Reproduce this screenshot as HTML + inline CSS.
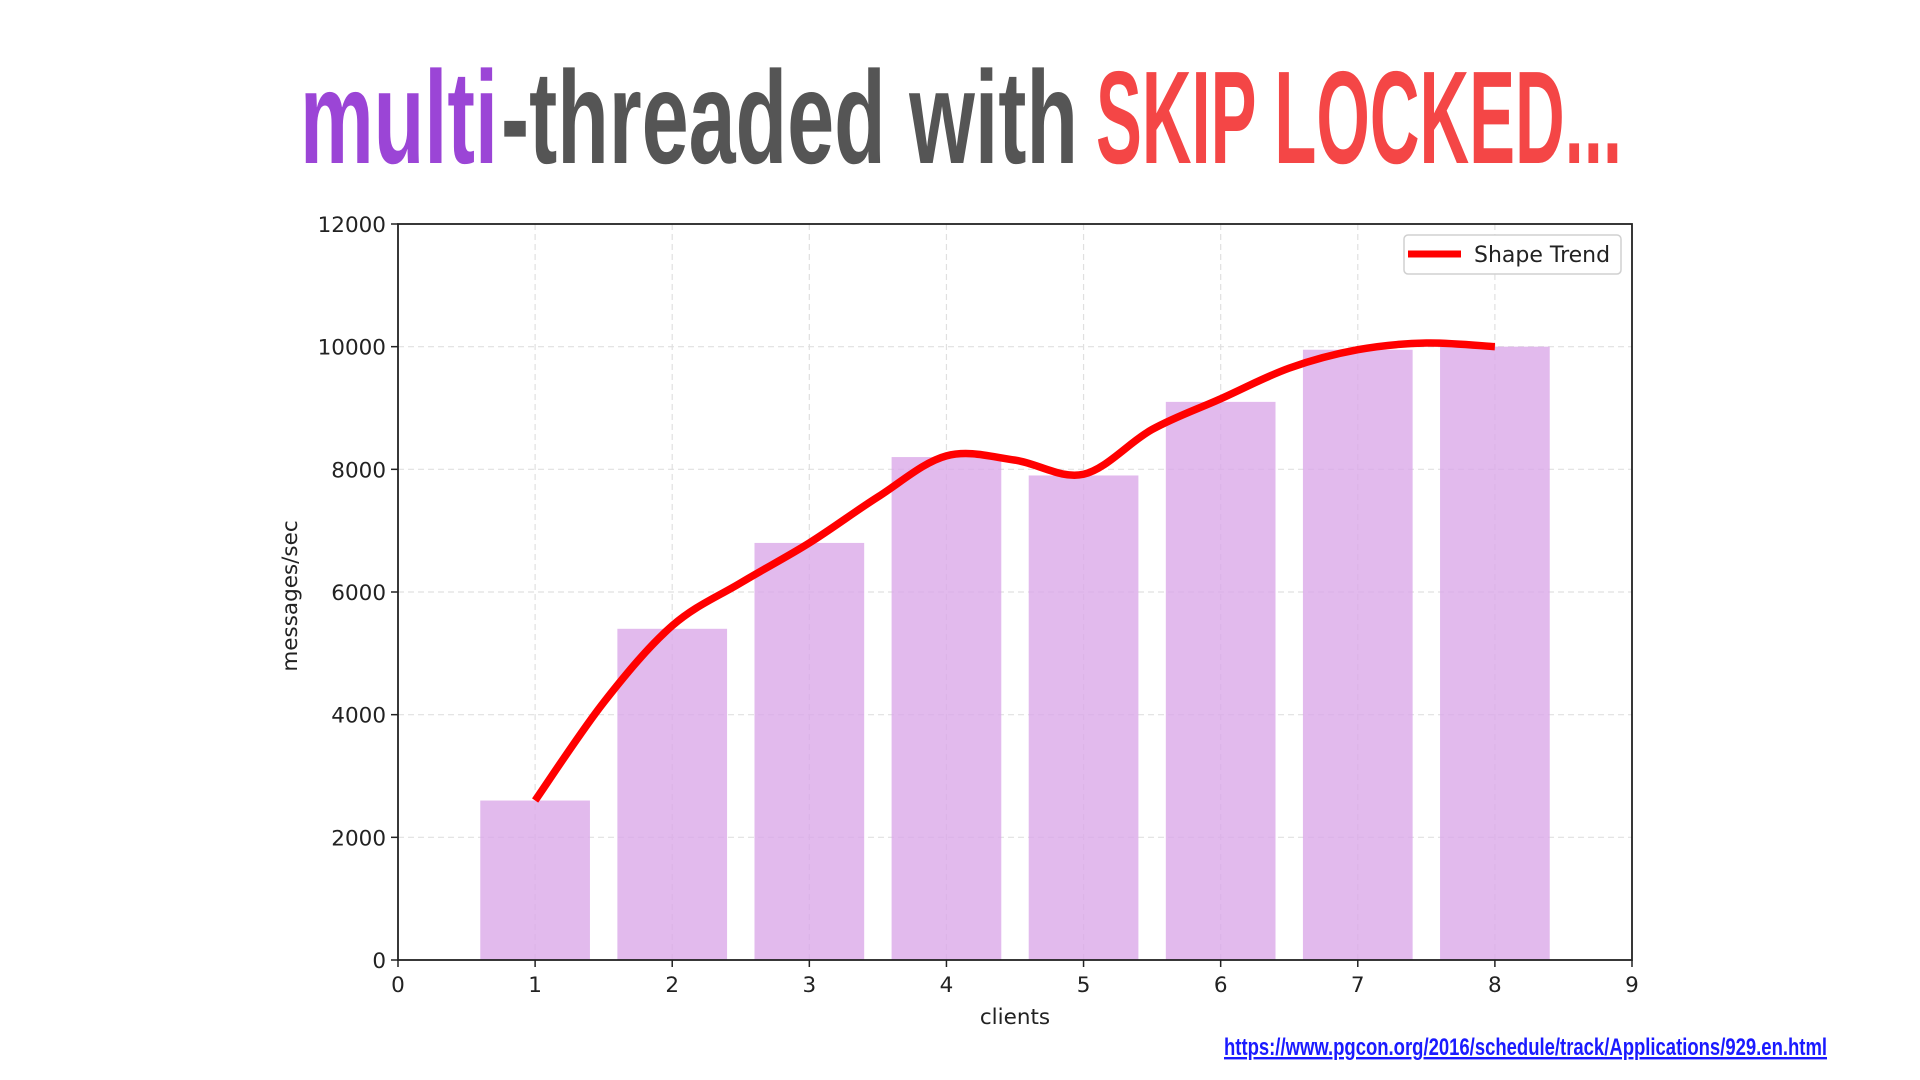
<!DOCTYPE html>
<html><head><meta charset="utf-8"><style>
html,body{margin:0;padding:0;background:#fff;width:1920px;height:1080px;overflow:hidden}
svg{display:block}
</style></head><body>
<svg id="chart" width="1920" height="1080" viewBox="0 0 1920 1080" xmlns="http://www.w3.org/2000/svg">
<g font-family="'Liberation Sans Narrow','Liberation Sans',sans-serif" font-weight="bold" font-size="132">
<text x="300" y="163" fill="#9b45d6" textLength="198" lengthAdjust="spacingAndGlyphs">multi</text>
<text x="501" y="163" fill="#555555" textLength="577" lengthAdjust="spacingAndGlyphs">-threaded with</text>
<text x="1096" y="163" fill="#f44646" textLength="526" lengthAdjust="spacingAndGlyphs">SKIP LOCKED...</text>
</g>
<g id="grid"></g>
<g id="bars"></g>
<g id="trend"></g>
<g id="axes" font-family="'DejaVu Sans',sans-serif" font-size="21.5" fill="#222"></g>
<g>
<rect x="1404" y="235" width="217" height="39" rx="4" fill="#fff" stroke="#d0d0d0" stroke-width="1.5"/>
<line x1="1408" y1="254" x2="1461" y2="254" stroke="#ff0000" stroke-width="7"/>
<text x="1474" y="262" font-family="'DejaVu Sans',sans-serif" font-size="22" fill="#222">Shape Trend</text>
</g>
<text x="1224" y="1055" font-family="'Liberation Sans Narrow','Liberation Sans',sans-serif" font-weight="bold" font-size="24" fill="#1a1aff" text-decoration="underline" textLength="603" lengthAdjust="spacingAndGlyphs">https://www.pgcon.org/2016/schedule/track/Applications/929.en.html</text>
</svg>
<script>
const categories = [1,2,3,4,5,6,7,8];
const throughput = [2600,5400,6800,8200,7900,9100,9950,10000];
const trendX = [1,1.5,2,2.5,3,3.5,4,4.5,5,5.5,6,6.5,7,7.5,8];
const trendY = [2600,4200,5450,6150,6800,7550,8220,8150,7920,8650,9150,9650,9950,10060,10000];
const xTicks = [0,1,2,3,4,5,6,7,8,9];
const yTicks = [0,2000,4000,6000,8000,10000,12000];
const NS='http://www.w3.org/2000/svg';
const L=398,R=1632,T=224,B=960;
const xs=v=>L+(v-0)/9*(R-L);
const ys=v=>B-(v/12000)*(B-T);
function mk(tag,attrs,parent){const e=document.createElementNS(NS,tag);for(const k in attrs)e.setAttribute(k,attrs[k]);parent.appendChild(e);return e;}
const grid=document.getElementById('grid'),bars=document.getElementById('bars'),trend=document.getElementById('trend'),axes=document.getElementById('axes');
xTicks.forEach(t=>{
  const g=mk('line',{x1:xs(t),x2:xs(t),y1:T,y2:B,stroke:'#e0e0e0','stroke-width':1.2,'stroke-dasharray':'6,4'},grid);
  
  
  const tk=mk('line',{x1:xs(t),x2:xs(t),y1:B,y2:B+7,stroke:'#222','stroke-width':1.5},axes);
  
  
  const lb=mk('text',{x:xs(t),y:B+32,'text-anchor':'middle'},axes);
  lb.textContent=t;
  
  
});
yTicks.forEach(t=>{
  const g=mk('line',{x1:L,x2:R,y1:ys(t),y2:ys(t),stroke:'#e0e0e0','stroke-width':1.2,'stroke-dasharray':'6,4'},grid);
  
  
  const tk=mk('line',{x1:L-7,x2:L,y1:ys(t),y2:ys(t),stroke:'#222','stroke-width':1.5},axes);
  
  
  const lb=mk('text',{x:L-12,y:ys(t)+8,'text-anchor':'end'},axes);
  lb.textContent=t;
  
  
});
categories.forEach((c,i)=>{
  const w=xs(0.8)-xs(0);
  const r=mk('rect',{x:xs(c-0.4),y:ys(throughput[i]),width:w,height:B-ys(throughput[i]),fill:'#dba9e8',opacity:0.8},bars);
  
  
});
const P=trendX.map((x,i)=>[xs(x),ys(trendY[i])]);
let d='M'+P[0][0]+','+P[0][1];
for(let i=0;i<P.length-1;i++){
  const p0=P[Math.max(0,i-1)],p1=P[i],p2=P[i+1],p3=P[Math.min(P.length-1,i+2)];
  const c1=[p1[0]+(p2[0]-p0[0])/6,p1[1]+(p2[1]-p0[1])/6];
  const c2=[p2[0]-(p3[0]-p1[0])/6,p2[1]-(p3[1]-p1[1])/6];
  d+=' C'+c1+' '+c2+' '+p2;
}
const path=mk('path',{d:d,fill:'none',stroke:'#ff0000','stroke-width':7.5},trend);


const frame=mk('rect',{x:L,y:T,width:R-L,height:B-T,fill:'none',stroke:'#222','stroke-width':1.8},axes);


const xl=mk('text',{x:(L+R)/2,y:1024,'text-anchor':'middle'},axes);
xl.textContent='clients';


const yl=mk('text',{x:0,y:0,'text-anchor':'middle',transform:'translate(297,596) rotate(-90)'},axes);
yl.textContent='messages/sec';


</script>
</body></html>
